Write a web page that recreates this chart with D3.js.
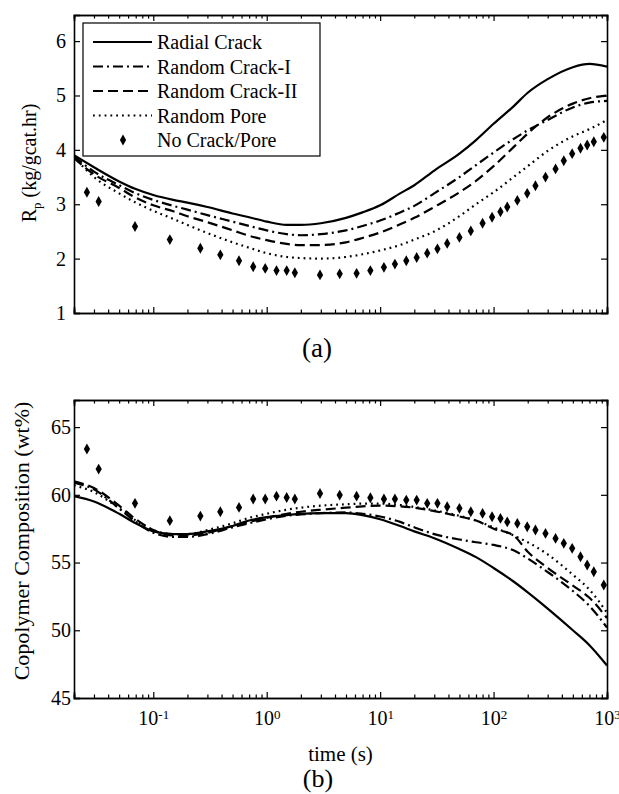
<!DOCTYPE html>
<html lang="en">
<head>
<meta charset="UTF-8">
<title>Rp and copolymer composition</title>
<style>
  body { margin: 0; background: #fff; }
  svg text { font-family: "Liberation Serif", "Times New Roman", Times, "DejaVu Serif", serif; fill: #000; }
</style>
</head>
<body>
<div id="wrapper"></div>
<script src="https://d3js.org/d3.v7.min.js"></script>
<script>
// time grid used by the four model curves (s)
const times = [0.02, 0.03, 0.05, 0.07, 0.1, 0.15, 0.2, 0.3, 0.5, 0.7, 1, 1.5, 2, 3, 5, 7,
  10, 15, 20, 30, 50, 70, 100, 150, 200, 300, 500, 700, 1000];

// (a) Rp, kg/gcat.hr
const rpRadial = [3.9, 3.68, 3.42, 3.28, 3.17, 3.08, 3.03, 2.95, 2.83, 2.76, 2.68, 2.62, 2.62, 2.65, 2.75, 2.85,
  2.98, 3.2, 3.35, 3.62, 3.93, 4.18, 4.48, 4.8, 5.05, 5.3, 5.52, 5.58, 5.53];
const rpCrackI = [3.88, 3.6, 3.35, 3.2, 3.08, 2.97, 2.9, 2.8, 2.68, 2.6, 2.52, 2.45, 2.43, 2.45, 2.52, 2.6,
  2.7, 2.85, 2.97, 3.2, 3.5, 3.72, 3.95, 4.2, 4.36, 4.55, 4.78, 4.87, 4.9];
const rpCrackII = [3.85, 3.55, 3.3, 3.12, 2.98, 2.87, 2.78, 2.67, 2.52, 2.42, 2.34, 2.27, 2.25, 2.25, 2.3, 2.38,
  2.48, 2.63, 2.75, 2.95, 3.22, 3.43, 3.7, 4.05, 4.3, 4.6, 4.85, 4.95, 5.0];
const rpPore = [3.87, 3.5, 3.2, 3.03, 2.88, 2.73, 2.62, 2.47, 2.3, 2.2, 2.1, 2.03, 2.01, 2.0, 2.03, 2.08,
  2.15, 2.25, 2.35, 2.5, 2.78, 3.0, 3.22, 3.5, 3.7, 3.98, 4.25, 4.38, 4.55];

// (b) copolymer composition, wt%
const compRadial = [59.9, 59.5, 58.6, 57.9, 57.3, 57.1, 57.1, 57.3, 57.7, 58.1, 58.35, 58.5, 58.6, 58.65, 58.65, 58.5,
  58.2, 57.7, 57.3, 56.8, 56.0, 55.4, 54.6, 53.6, 52.8, 51.6, 50.0, 48.9, 47.4];
const compCrackI = [60.9, 60.4, 59.0, 58.0, 57.2, 56.9, 56.9, 57.1, 57.6, 57.9, 58.2, 58.45, 58.55, 58.65, 58.7, 58.6,
  58.4, 58.0, 57.6, 57.1, 56.7, 56.5, 56.3, 55.9, 55.3, 54.3, 52.9, 51.8, 50.2];
const compCrackII = [61.0, 60.5, 59.2, 58.2, 57.4, 57.0, 57.0, 57.2, 57.7, 58.0, 58.3, 58.6, 58.75, 58.9, 59.05, 59.15,
  59.2, 59.15, 59.05, 58.8, 58.4, 58.1, 57.5, 57.0, 55.8, 54.6, 53.3, 52.4, 50.9];
const compPore = [60.7, 60.2, 59.0, 58.1, 57.4, 57.1, 57.1, 57.4, 57.9, 58.3, 58.6, 58.9, 59.05, 59.2, 59.3, 59.35,
  59.35, 59.25, 59.1, 58.85, 58.45, 58.1, 57.6, 57.0, 56.5, 55.6, 54.1, 53.0, 51.3];

// no crack/pore points sit on the solver's own time steps
const noCrackTimes = [0.026, 0.033, 0.069, 0.14, 0.26, 0.39, 0.57, 0.76, 0.97, 1.22, 1.5, 1.77, 2.95, 4.4, 6.2, 8.2,
  10.8, 13.5, 17, 21, 26, 32, 39, 50, 63, 80, 97, 115, 132, 162, 198, 234, 287, 352, 416, 493, 584, 669, 765, 937];
const rpNoCrack = [3.22, 3.05, 2.59, 2.35, 2.19, 2.07, 1.96, 1.85, 1.82, 1.78, 1.78, 1.74, 1.70, 1.72, 1.73, 1.78,
  1.84, 1.90, 1.96, 2.02, 2.10, 2.18, 2.28, 2.39, 2.51, 2.65, 2.76, 2.86, 2.95, 3.07, 3.2, 3.34, 3.50, 3.65, 3.80, 3.93,
  4.03, 4.09, 4.15, 4.23];
const compNoCrack = [63.38, 61.9, 59.37, 58.09, 58.43, 58.75, 59.07, 59.69, 59.69, 59.9, 59.8, 59.69, 60.1, 59.98, 59.9, 59.78,
  59.69, 59.69, 59.61, 59.61, 59.37, 59.37, 59.12, 59.0, 58.75, 58.63, 58.38, 58.26, 58.0, 57.89, 57.64, 57.4, 57.15, 56.78,
  56.42, 56.05, 55.43, 54.82, 54.32, 53.34];

const seriesNames = ['Radial Crack', 'Random Crack-I', 'Random Crack-II', 'Random Pore', 'No Crack/Pore'];
const xMajorTicks = [0.1, 1, 10, 100, 1000];
const xTickExponents = ['-1', '0', '1', '2', '3'];
const rpTicks = [1, 2, 3, 4, 5, 6];
const compTicks = [45, 50, 55, 60, 65];

const width = 619, height = 794;
const left = 74, right = 607;
const serif = '"Liberation Serif", "Times New Roman", Times, "DejaVu Serif", serif';

const svg = d3.select('#wrapper').append('svg')
  .attr('width', width)
  .attr('height', height)
  .attr('font-family', serif);

const x = d3.scaleLog().domain([0.02, 1000]).range([left, right]);

// minor ticks 2..9 of each decade
const xMinorTicks = [];
[0.01, 0.1, 1, 10, 100].forEach(d => {
  for (let k = 2; k <= 9; k++) {
    const v = d * k;
    if (v >= 0.02 && v <= 1000) xMinorTicks.push(v);
  }
});

// line styles for the four curves
const styles = [
  { dash: null, width: 2.2 },
  { dash: '10,4,2,4', width: 2.2 },
  { dash: '10,5', width: 2.2 },
  { dash: '1.8,4', width: 2.2 }
];

function panel(id, top, bottom, yDomain, yTicks, curves, diamonds, yPad) {
  const y = d3.scaleLinear().domain(yDomain).range([bottom, top]);
  const g = svg.append('g');

  g.append('clipPath').attr('id', 'clip-' + id)
    .append('rect')
    .attr('x', left).attr('y', top)
    .attr('width', right - left).attr('height', bottom - top);

  const plot = g.append('g').attr('clip-path', 'url(#clip-' + id + ')');

  const line = d3.line()
    .x(d => x(d[0]))
    .y(d => y(d[1]))
    .curve(d3.curveMonotoneX);

  curves.forEach((vals, i) => {
    plot.append('path')
      .datum(times.map((t, j) => [t, vals[j]]))
      .attr('fill', 'none')
      .attr('stroke', '#000')
      .attr('stroke-width', styles[i].width)
      .attr('stroke-dasharray', styles[i].dash)
      .attr('d', line);
  });

  const diamond = d3.symbol().type(d3.symbolDiamond).size(34);
  plot.selectAll('.dm')
    .data(noCrackTimes.map((t, j) => [t, diamonds[j]]))
    .enter()
    .append('path')
    .attr('class', 'dm')
    .attr('transform', d => 'translate(' + x(d[0]) + ',' + y(d[1]) + ')')
    .attr('d', diamond)
    .attr('fill', '#000');

  // axes with inward ticks on all four sides
  const xb = d3.axisBottom(x).tickValues(xMajorTicks).tickSize(-6).tickPadding(13).tickFormat('');
  const xbm = d3.axisBottom(x).tickValues(xMinorTicks).tickSize(-3.5).tickFormat('');
  const xt = d3.axisTop(x).tickValues(xMajorTicks).tickSize(-6).tickFormat('');
  const xtm = d3.axisTop(x).tickValues(xMinorTicks).tickSize(-3.5).tickFormat('');
  const yl = d3.axisLeft(y).tickValues(yTicks).tickSize(-6).tickPadding(yPad).tickFormat(d3.format('d'));
  const yr = d3.axisRight(y).tickValues(yTicks).tickSize(-6).tickFormat('');

  const axes = [
    [xb, 'translate(0,' + bottom + ')'],
    [xbm, 'translate(0,' + bottom + ')'],
    [xt, 'translate(0,' + top + ')'],
    [xtm, 'translate(0,' + top + ')'],
    [yl, 'translate(' + left + ',0)'],
    [yr, 'translate(' + right + ',0)']
  ];
  const sel = axes.map(a => g.append('g').attr('transform', a[1]).call(a[0]));
  sel.forEach(s => {
    s.attr('font-family', serif).attr('font-size', 20);
    s.select('.domain').attr('stroke', '#000').attr('stroke-width', 1.6);
    s.selectAll('.tick line').attr('stroke', '#000').attr('stroke-width', 1.2);
  });

  return { g, y, xAxis: sel[0] };
}

// (a)
const a = panel('a', 15, 313, [1, 6.48], rpTicks,
  [rpRadial, rpCrackI, rpCrackII, rpPore], rpNoCrack, 8);

// (b)
const b = panel('b', 400, 698, [45, 67], compTicks,
  [compRadial, compCrackI, compCrackII, compPore], compNoCrack, 3);

// x tick labels 10^n on the lower panel
b.xAxis.selectAll('.tick text')
  .each(function (d, i) {
    const t = d3.select(this);
    t.text('10');
    t.append('tspan')
      .attr('dy', '-0.45em')
      .attr('font-size', 13)
      .text(xTickExponents[i]);
  });

// axis titles
const rpTitle = svg.append('text')
  .attr('transform', 'translate(36,163) rotate(-90)')
  .attr('text-anchor', 'middle')
  .attr('font-size', 20);
rpTitle.append('tspan').text('R');
rpTitle.append('tspan').attr('dy', '5').attr('font-size', 13).text('p');
rpTitle.append('tspan').attr('dy', '-5').text(' (kg/gcat.hr)');

svg.append('text')
  .attr('transform', 'translate(29,541) rotate(-90)')
  .attr('text-anchor', 'middle')
  .attr('font-size', 22)
  .text('Copolymer Composition (wt%)');

svg.append('text')
  .attr('x', (left + right) / 2).attr('y', 761)
  .attr('text-anchor', 'middle')
  .attr('font-size', 21)
  .text('time (s)');

svg.append('text')
  .attr('x', 317).attr('y', 357)
  .attr('text-anchor', 'middle')
  .attr('font-size', 27)
  .text('(a)');

svg.append('text')
  .attr('x', 318).attr('y', 787)
  .attr('text-anchor', 'middle')
  .attr('font-size', 26)
  .text('(b)');

// legend
const legend = svg.append('g');
legend.append('rect')
  .attr('x', 83).attr('y', 23)
  .attr('width', 237).attr('height', 133)
  .attr('fill', '#fff')
  .attr('stroke', '#000')
  .attr('stroke-width', 1.2);

const rowY = d3.scalePoint().domain(seriesNames).range([42, 140]);
seriesNames.forEach((name, i) => {
  const cy = rowY(name);
  if (i < 4) {
    legend.append('line')
      .attr('x1', 93).attr('x2', 152)
      .attr('y1', cy).attr('y2', cy)
      .attr('stroke', '#000')
      .attr('stroke-width', styles[i].width)
      .attr('stroke-dasharray', styles[i].dash);
  } else {
    legend.append('path')
      .attr('transform', 'translate(123,' + cy + ')')
      .attr('d', d3.symbol().type(d3.symbolDiamond).size(34))
      .attr('fill', '#000');
  }
  legend.append('text')
    .attr('x', 157).attr('y', cy + 7)
    .attr('font-size', 20)
    .text(name);
});
</script>
</body>
</html>
